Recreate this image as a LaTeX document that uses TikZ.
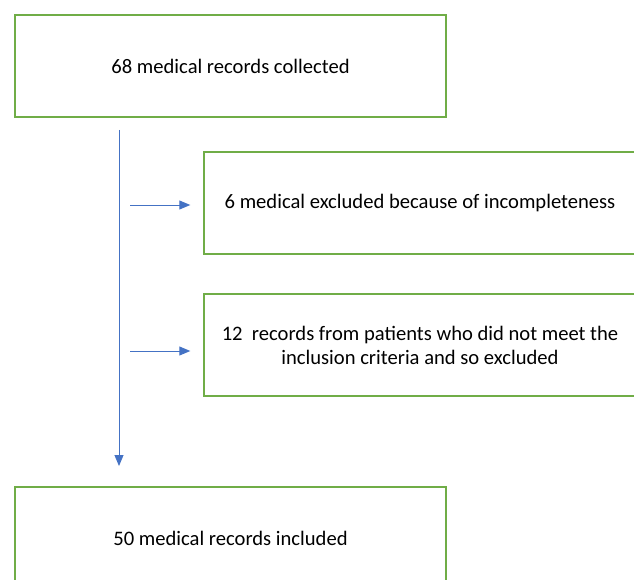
\documentclass[tikz,border=0pt]{standalone}
\usepackage{fontspec}
\setmainfont{Carlito}
\usetikzlibrary{arrows.meta}
\definecolor{boxgreen}{RGB}{112,173,71}
\definecolor{flowblue}{RGB}{68,114,196}
\begin{document}
\begin{tikzpicture}[x=1pt,y=-1pt,
                box/.style={draw=boxgreen, line width=1.4pt, minimum height=102pt, align=center, font=\fontsize{20.6}{24}\selectfont},
                flow/.style={draw=flowblue, line width=0.9pt, -{Triangle[length=11pt,width=9pt]}}]
                \clip (0,0) rectangle (634,580);

                \node (collected) at (230.5,66) [box, minimum width=431pt] {68 medical records collected};
                \node (incomplete) at (420,203) [box, minimum width=432pt] {6 medical excluded because of incompleteness};
                \node (criteria) at (420,345) [box, minimum width=432pt] {12\ \ records from patients who did not meet the\\inclusion criteria and so excluded};
                \node (included) at (230.5,538) [box, minimum width=431pt] {50 medical records included};

                \coordinate (trunktop) at (119,130);
                \coordinate (trunkend) at (119,466);
                \coordinate (branchA) at (130,205);
                \coordinate (branchB) at (130,351);

                \draw[flow] (trunktop) -- (trunkend);
                \draw[flow, shorten >=13pt] (branchA) -- (incomplete.west |- branchA);
                \draw[flow, shorten >=13pt] (branchB) -- (criteria.west |- branchB);
            \end{tikzpicture}
\end{document}
